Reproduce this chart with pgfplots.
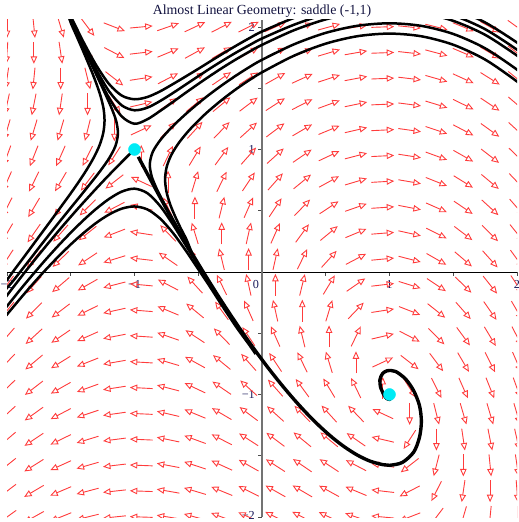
\documentclass[border=0pt]{standalone}
\usepackage{fontspec}
\setmainfont{Liberation Serif}
\usepackage{pgfplots}
\usepackage{pgfplotstable}
\pgfplotsset{compat=1.18}
\usetikzlibrary{arrows.meta}
\definecolor{fieldred}{RGB}{255,60,60}
\definecolor{labelnavy}{RGB}{25,25,90}
\definecolor{dotcyan}{RGB}{0,235,245}
\begin{document}
\begin{tikzpicture}
\pgfplotstableread{
x y u v
-2 -2 -4 -3
-2 -1.789 -3.789 -3
-2 -1.579 -3.579 -3
-2 -1.368 -3.368 -3
-2 -1.158 -3.158 -3
-2 -0.947 -2.947 -3
-2 -0.737 -2.737 -3
-2 -0.526 -2.526 -3
-2 -0.316 -2.316 -3
-2 -0.105 -2.105 -3
-2 0.105 -1.895 -3
-2 0.316 -1.684 -3
-2 0.526 -1.474 -3
-2 0.737 -1.263 -3
-2 0.947 -1.053 -3
-2 1.158 -0.842 -3
-2 1.368 -0.632 -3
-2 1.579 -0.421 -3
-2 1.789 -0.211 -3
-2 2 0 -3
-1.789 -2 -3.789 -2.202
-1.789 -1.789 -3.579 -2.202
-1.789 -1.579 -3.368 -2.202
-1.789 -1.368 -3.158 -2.202
-1.789 -1.158 -2.947 -2.202
-1.789 -0.947 -2.737 -2.202
-1.789 -0.737 -2.526 -2.202
-1.789 -0.526 -2.316 -2.202
-1.789 -0.316 -2.105 -2.202
-1.789 -0.105 -1.895 -2.202
-1.789 0.105 -1.684 -2.202
-1.789 0.316 -1.474 -2.202
-1.789 0.526 -1.263 -2.202
-1.789 0.737 -1.053 -2.202
-1.789 0.947 -0.842 -2.202
-1.789 1.158 -0.632 -2.202
-1.789 1.368 -0.421 -2.202
-1.789 1.579 -0.211 -2.202
-1.789 1.789 0 -2.202
-1.789 2 0.211 -2.202
-1.579 -2 -3.579 -1.493
-1.579 -1.789 -3.368 -1.493
-1.579 -1.579 -3.158 -1.493
-1.579 -1.368 -2.947 -1.493
-1.579 -1.158 -2.737 -1.493
-1.579 -0.947 -2.526 -1.493
-1.579 -0.737 -2.316 -1.493
-1.579 -0.526 -2.105 -1.493
-1.579 -0.316 -1.895 -1.493
-1.579 -0.105 -1.684 -1.493
-1.579 0.105 -1.474 -1.493
-1.579 0.316 -1.263 -1.493
-1.579 0.526 -1.053 -1.493
-1.579 0.737 -0.842 -1.493
-1.579 0.947 -0.632 -1.493
-1.579 1.158 -0.421 -1.493
-1.579 1.368 -0.211 -1.493
-1.579 1.579 0 -1.493
-1.579 1.789 0.211 -1.493
-1.579 2 0.421 -1.493
-1.368 -2 -3.368 -0.873
-1.368 -1.789 -3.158 -0.873
-1.368 -1.579 -2.947 -0.873
-1.368 -1.368 -2.737 -0.873
-1.368 -1.158 -2.526 -0.873
-1.368 -0.947 -2.316 -0.873
-1.368 -0.737 -2.105 -0.873
-1.368 -0.526 -1.895 -0.873
-1.368 -0.316 -1.684 -0.873
-1.368 -0.105 -1.474 -0.873
-1.368 0.105 -1.263 -0.873
-1.368 0.316 -1.053 -0.873
-1.368 0.526 -0.842 -0.873
-1.368 0.737 -0.632 -0.873
-1.368 0.947 -0.421 -0.873
-1.368 1.158 -0.211 -0.873
-1.368 1.368 0 -0.873
-1.368 1.579 0.211 -0.873
-1.368 1.789 0.421 -0.873
-1.368 2 0.632 -0.873
-1.158 -2 -3.158 -0.341
-1.158 -1.789 -2.947 -0.341
-1.158 -1.579 -2.737 -0.341
-1.158 -1.368 -2.526 -0.341
-1.158 -1.158 -2.316 -0.341
-1.158 -0.947 -2.105 -0.341
-1.158 -0.737 -1.895 -0.341
-1.158 -0.526 -1.684 -0.341
-1.158 -0.316 -1.474 -0.341
-1.158 -0.105 -1.263 -0.341
-1.158 0.105 -1.053 -0.341
-1.158 0.316 -0.842 -0.341
-1.158 0.526 -0.632 -0.341
-1.158 0.737 -0.421 -0.341
-1.158 0.947 -0.211 -0.341
-1.158 1.158 0 -0.341
-1.158 1.368 0.211 -0.341
-1.158 1.579 0.421 -0.341
-1.158 1.789 0.632 -0.341
-1.158 2 0.842 -0.341
-0.947 -2 -2.947 0.102
-0.947 -1.789 -2.737 0.102
-0.947 -1.579 -2.526 0.102
-0.947 -1.368 -2.316 0.102
-0.947 -1.158 -2.105 0.102
-0.947 -0.947 -1.895 0.102
-0.947 -0.737 -1.684 0.102
-0.947 -0.526 -1.474 0.102
-0.947 -0.316 -1.263 0.102
-0.947 -0.105 -1.053 0.102
-0.947 0.105 -0.842 0.102
-0.947 0.316 -0.632 0.102
-0.947 0.526 -0.421 0.102
-0.947 0.737 -0.211 0.102
-0.947 0.947 0 0.102
-0.947 1.158 0.211 0.102
-0.947 1.368 0.421 0.102
-0.947 1.579 0.632 0.102
-0.947 1.789 0.842 0.102
-0.947 2 1.053 0.102
-0.737 -2 -2.737 0.457
-0.737 -1.789 -2.526 0.457
-0.737 -1.579 -2.316 0.457
-0.737 -1.368 -2.105 0.457
-0.737 -1.158 -1.895 0.457
-0.737 -0.947 -1.684 0.457
-0.737 -0.737 -1.474 0.457
-0.737 -0.526 -1.263 0.457
-0.737 -0.316 -1.053 0.457
-0.737 -0.105 -0.842 0.457
-0.737 0.105 -0.632 0.457
-0.737 0.316 -0.421 0.457
-0.737 0.526 -0.211 0.457
-0.737 0.737 0 0.457
-0.737 0.947 0.211 0.457
-0.737 1.158 0.421 0.457
-0.737 1.368 0.632 0.457
-0.737 1.579 0.842 0.457
-0.737 1.789 1.053 0.457
-0.737 2 1.263 0.457
-0.526 -2 -2.526 0.723
-0.526 -1.789 -2.316 0.723
-0.526 -1.579 -2.105 0.723
-0.526 -1.368 -1.895 0.723
-0.526 -1.158 -1.684 0.723
-0.526 -0.947 -1.474 0.723
-0.526 -0.737 -1.263 0.723
-0.526 -0.526 -1.053 0.723
-0.526 -0.316 -0.842 0.723
-0.526 -0.105 -0.632 0.723
-0.526 0.105 -0.421 0.723
-0.526 0.316 -0.211 0.723
-0.526 0.526 0 0.723
-0.526 0.737 0.211 0.723
-0.526 0.947 0.421 0.723
-0.526 1.158 0.632 0.723
-0.526 1.368 0.842 0.723
-0.526 1.579 1.053 0.723
-0.526 1.789 1.263 0.723
-0.526 2 1.474 0.723
-0.316 -2 -2.316 0.900
-0.316 -1.789 -2.105 0.900
-0.316 -1.579 -1.895 0.900
-0.316 -1.368 -1.684 0.900
-0.316 -1.158 -1.474 0.900
-0.316 -0.947 -1.263 0.900
-0.316 -0.737 -1.053 0.900
-0.316 -0.526 -0.842 0.900
-0.316 -0.316 -0.632 0.900
-0.316 -0.105 -0.421 0.900
-0.316 0.105 -0.211 0.900
-0.316 0.316 0 0.900
-0.316 0.526 0.211 0.900
-0.316 0.737 0.421 0.900
-0.316 0.947 0.632 0.900
-0.316 1.158 0.842 0.900
-0.316 1.368 1.053 0.900
-0.316 1.579 1.263 0.900
-0.316 1.789 1.474 0.900
-0.316 2 1.684 0.900
-0.105 -2 -2.105 0.989
-0.105 -1.789 -1.895 0.989
-0.105 -1.579 -1.684 0.989
-0.105 -1.368 -1.474 0.989
-0.105 -1.158 -1.263 0.989
-0.105 -0.947 -1.053 0.989
-0.105 -0.737 -0.842 0.989
-0.105 -0.526 -0.632 0.989
-0.105 -0.316 -0.421 0.989
-0.105 -0.105 -0.211 0.989
-0.105 0.105 0 0.989
-0.105 0.316 0.211 0.989
-0.105 0.526 0.421 0.989
-0.105 0.737 0.632 0.989
-0.105 0.947 0.842 0.989
-0.105 1.158 1.053 0.989
-0.105 1.368 1.263 0.989
-0.105 1.579 1.474 0.989
-0.105 1.789 1.684 0.989
-0.105 2 1.895 0.989
0.105 -2 -1.895 0.989
0.105 -1.789 -1.684 0.989
0.105 -1.579 -1.474 0.989
0.105 -1.368 -1.263 0.989
0.105 -1.158 -1.053 0.989
0.105 -0.947 -0.842 0.989
0.105 -0.737 -0.632 0.989
0.105 -0.526 -0.421 0.989
0.105 -0.316 -0.211 0.989
0.105 -0.105 0 0.989
0.105 0.105 0.211 0.989
0.105 0.316 0.421 0.989
0.105 0.526 0.632 0.989
0.105 0.737 0.842 0.989
0.105 0.947 1.053 0.989
0.105 1.158 1.263 0.989
0.105 1.368 1.474 0.989
0.105 1.579 1.684 0.989
0.105 1.789 1.895 0.989
0.105 2 2.105 0.989
0.316 -2 -1.684 0.900
0.316 -1.789 -1.474 0.900
0.316 -1.579 -1.263 0.900
0.316 -1.368 -1.053 0.900
0.316 -1.158 -0.842 0.900
0.316 -0.947 -0.632 0.900
0.316 -0.737 -0.421 0.900
0.316 -0.526 -0.211 0.900
0.316 -0.316 0 0.900
0.316 -0.105 0.211 0.900
0.316 0.105 0.421 0.900
0.316 0.316 0.632 0.900
0.316 0.526 0.842 0.900
0.316 0.737 1.053 0.900
0.316 0.947 1.263 0.900
0.316 1.158 1.474 0.900
0.316 1.368 1.684 0.900
0.316 1.579 1.895 0.900
0.316 1.789 2.105 0.900
0.316 2 2.316 0.900
0.526 -2 -1.474 0.723
0.526 -1.789 -1.263 0.723
0.526 -1.579 -1.053 0.723
0.526 -1.368 -0.842 0.723
0.526 -1.158 -0.632 0.723
0.526 -0.947 -0.421 0.723
0.526 -0.737 -0.211 0.723
0.526 -0.526 0 0.723
0.526 -0.316 0.211 0.723
0.526 -0.105 0.421 0.723
0.526 0.105 0.632 0.723
0.526 0.316 0.842 0.723
0.526 0.526 1.053 0.723
0.526 0.737 1.263 0.723
0.526 0.947 1.474 0.723
0.526 1.158 1.684 0.723
0.526 1.368 1.895 0.723
0.526 1.579 2.105 0.723
0.526 1.789 2.316 0.723
0.526 2 2.526 0.723
0.737 -2 -1.263 0.457
0.737 -1.789 -1.053 0.457
0.737 -1.579 -0.842 0.457
0.737 -1.368 -0.632 0.457
0.737 -1.158 -0.421 0.457
0.737 -0.947 -0.211 0.457
0.737 -0.737 0 0.457
0.737 -0.526 0.211 0.457
0.737 -0.316 0.421 0.457
0.737 -0.105 0.632 0.457
0.737 0.105 0.842 0.457
0.737 0.316 1.053 0.457
0.737 0.526 1.263 0.457
0.737 0.737 1.474 0.457
0.737 0.947 1.684 0.457
0.737 1.158 1.895 0.457
0.737 1.368 2.105 0.457
0.737 1.579 2.316 0.457
0.737 1.789 2.526 0.457
0.737 2 2.737 0.457
0.947 -2 -1.053 0.102
0.947 -1.789 -0.842 0.102
0.947 -1.579 -0.632 0.102
0.947 -1.368 -0.421 0.102
0.947 -1.158 -0.211 0.102
0.947 -0.947 0 0.102
0.947 -0.737 0.211 0.102
0.947 -0.526 0.421 0.102
0.947 -0.316 0.632 0.102
0.947 -0.105 0.842 0.102
0.947 0.105 1.053 0.102
0.947 0.316 1.263 0.102
0.947 0.526 1.474 0.102
0.947 0.737 1.684 0.102
0.947 0.947 1.895 0.102
0.947 1.158 2.105 0.102
0.947 1.368 2.316 0.102
0.947 1.579 2.526 0.102
0.947 1.789 2.737 0.102
0.947 2 2.947 0.102
1.158 -2 -0.842 -0.341
1.158 -1.789 -0.632 -0.341
1.158 -1.579 -0.421 -0.341
1.158 -1.368 -0.211 -0.341
1.158 -1.158 0 -0.341
1.158 -0.947 0.211 -0.341
1.158 -0.737 0.421 -0.341
1.158 -0.526 0.632 -0.341
1.158 -0.316 0.842 -0.341
1.158 -0.105 1.053 -0.341
1.158 0.105 1.263 -0.341
1.158 0.316 1.474 -0.341
1.158 0.526 1.684 -0.341
1.158 0.737 1.895 -0.341
1.158 0.947 2.105 -0.341
1.158 1.158 2.316 -0.341
1.158 1.368 2.526 -0.341
1.158 1.579 2.737 -0.341
1.158 1.789 2.947 -0.341
1.158 2 3.158 -0.341
1.368 -2 -0.632 -0.873
1.368 -1.789 -0.421 -0.873
1.368 -1.579 -0.211 -0.873
1.368 -1.368 0 -0.873
1.368 -1.158 0.211 -0.873
1.368 -0.947 0.421 -0.873
1.368 -0.737 0.632 -0.873
1.368 -0.526 0.842 -0.873
1.368 -0.316 1.053 -0.873
1.368 -0.105 1.263 -0.873
1.368 0.105 1.474 -0.873
1.368 0.316 1.684 -0.873
1.368 0.526 1.895 -0.873
1.368 0.737 2.105 -0.873
1.368 0.947 2.316 -0.873
1.368 1.158 2.526 -0.873
1.368 1.368 2.737 -0.873
1.368 1.579 2.947 -0.873
1.368 1.789 3.158 -0.873
1.368 2 3.368 -0.873
1.579 -2 -0.421 -1.493
1.579 -1.789 -0.211 -1.493
1.579 -1.579 0 -1.493
1.579 -1.368 0.211 -1.493
1.579 -1.158 0.421 -1.493
1.579 -0.947 0.632 -1.493
1.579 -0.737 0.842 -1.493
1.579 -0.526 1.053 -1.493
1.579 -0.316 1.263 -1.493
1.579 -0.105 1.474 -1.493
1.579 0.105 1.684 -1.493
1.579 0.316 1.895 -1.493
1.579 0.526 2.105 -1.493
1.579 0.737 2.316 -1.493
1.579 0.947 2.526 -1.493
1.579 1.158 2.737 -1.493
1.579 1.368 2.947 -1.493
1.579 1.579 3.158 -1.493
1.579 1.789 3.368 -1.493
1.579 2 3.579 -1.493
1.789 -2 -0.211 -2.202
1.789 -1.789 0 -2.202
1.789 -1.579 0.211 -2.202
1.789 -1.368 0.421 -2.202
1.789 -1.158 0.632 -2.202
1.789 -0.947 0.842 -2.202
1.789 -0.737 1.053 -2.202
1.789 -0.526 1.263 -2.202
1.789 -0.316 1.474 -2.202
1.789 -0.105 1.684 -2.202
1.789 0.105 1.895 -2.202
1.789 0.316 2.105 -2.202
1.789 0.526 2.316 -2.202
1.789 0.737 2.526 -2.202
1.789 0.947 2.737 -2.202
1.789 1.158 2.947 -2.202
1.789 1.368 3.158 -2.202
1.789 1.579 3.368 -2.202
1.789 1.789 3.579 -2.202
1.789 2 3.789 -2.202
2 -2 0 -3
2 -1.789 0.211 -3
2 -1.579 0.421 -3
2 -1.368 0.632 -3
2 -1.158 0.842 -3
2 -0.947 1.053 -3
2 -0.737 1.263 -3
2 -0.526 1.474 -3
2 -0.316 1.684 -3
2 -0.105 1.895 -3
2 0.105 2.105 -3
2 0.316 2.316 -3
2 0.526 2.526 -3
2 0.737 2.737 -3
2 0.947 2.947 -3
2 1.158 3.158 -3
2 1.368 3.368 -3
2 1.579 3.579 -3
2 1.789 3.789 -3
2 2 4 -3
}\field
\begin{axis}[
  name=ax, scale only axis, width=510bp, height=497bp,
  xmin=-2, xmax=2, ymin=-2, ymax=2.057,
  axis lines=middle, axis line style={-},
  x axis line style={black, line width=0.9bp},
  y axis line style={black!55, line width=1.3bp},
  xtick={-2,-1,1,2}, ytick={-2,-1,1,2},
  xticklabels={−2,−1,1,2}, yticklabels={\raisebox{4bp}{−2},−1,1,2},
  minor xtick={-1.5,-0.5,0.5,1.5}, minor ytick={-1.5,-0.5,0.5,1.5},
  tick align=outside, major tick length=4bp, minor tick length=4bp,
  tick style={black!70, line width=0.7bp},
  ticklabel style={font=\fontsize{12.2bp}{13bp}\selectfont, text=labelnavy},
  xticklabel style={anchor=north, inner sep=1bp, yshift=-3bp},
  yticklabel style={anchor=east, inner sep=1bp, xshift=-2bp},
  clip=true,
]
\coordinate (axbl) at (rel axis cs:0,0);
\coordinate (axtop) at (rel axis cs:0.5,1);
\addplot[draw=fieldred, line width=0.9bp, -{Triangle[open, length=7.5bp, width=6.5bp, line width=0.9bp]},
  quiver={u={0.18*(\thisrow{u})/veclen((\thisrow{u}),(\thisrow{v}))},
          v={0.18*(\thisrow{v})/veclen((\thisrow{u}),(\thisrow{v}))}}]
  table[x expr={\thisrow{x}-0.09*(\thisrow{u})/veclen((\thisrow{u}),(\thisrow{v}))},
        y expr={\thisrow{y}-0.09*(\thisrow{v})/veclen((\thisrow{u}),(\thisrow{v}))}] {\field};
\addplot[only marks, mark=*, mark size=6bp, mark options={draw=dotcyan, fill=dotcyan}] coordinates {(-1,1) (1,-1)};
% spiral / stable manifold from below
\addplot[black, line width=3.4bp, smooth, tension=0.5] coordinates {
(1.0,-1.0) (1.015,-1.02) (1.0,-1.04) (0.975,-1.03) (0.955,-1.0) (0.93,-0.94) (0.925,-0.88) (0.945,-0.83) (0.983,-0.806) (1.048,-0.812) (1.127,-0.875) (1.19,-0.97) (1.235,-1.09) (1.25,-1.22) (1.235,-1.35) (1.19,-1.47) (1.10,-1.555) (1.0,-1.578) (0.95,-1.573) (0.85,-1.545) (0.75,-1.496) (0.65,-1.43) (0.55,-1.35) (0.45,-1.257) (0.35,-1.153) (0.25,-1.039) (0.15,-0.916) (0.05,-0.785) (-0.05,-0.646) (-0.15,-0.499) (-0.25,-0.345) (-0.35,-0.185) (-0.45,-0.018) (-0.55,0.154) (-0.65,0.333) (-0.75,0.516) (-0.85,0.707) (-0.95,0.90) (-0.97,0.94)};
% from the top, turning right
\addplot[black, line width=2.5bp, smooth, tension=0.5] coordinates {
(-1.53,2.13) (-1.5,2.086) (-1.4,1.877) (-1.3,1.688) (-1.2,1.535) (-1.1,1.44) (-1.0,1.41) (-0.9,1.428) (-0.8,1.474) (-0.7,1.533) (-0.6,1.595) (-0.5,1.658) (-0.4,1.723) (-0.3,1.787) (-0.2,1.849) (-0.1,1.908) (0,1.963) (0.25,2.074) (0.5,2.16) (0.75,2.213) (1.0,2.231) (1.25,2.211) (1.5,2.148) (1.75,2.037) (2.0,1.873) (2.05,1.83)};
\addplot[black, line width=2.5bp, smooth, tension=0.5] coordinates {
(-1.53,2.12) (-1.5,2.07) (-1.4,1.855) (-1.3,1.652) (-1.2,1.476) (-1.1,1.36) (-1.0,1.32) (-0.9,1.341) (-0.8,1.395) (-0.7,1.46) (-0.6,1.529) (-0.5,1.598) (-0.4,1.666) (-0.3,1.731) (-0.2,1.793) (-0.1,1.851) (0,1.906) (0.25,2.018) (0.5,2.105) (0.75,2.16) (1.0,2.179) (1.25,2.158) (1.5,2.095) (1.75,1.982) (2.0,1.815) (2.05,1.77)};
\addplot[black, line width=2.5bp, smooth, tension=0.5] coordinates {
(-1.53,2.13) (-1.5,2.062) (-1.4,1.842) (-1.3,1.626) (-1.2,1.422) (-1.1,1.27) (-1.0,1.21) (-0.9,1.246) (-0.8,1.314) (-0.7,1.387) (-0.6,1.462) (-0.5,1.535) (-0.4,1.606) (-0.3,1.674) (-0.2,1.738) (-0.1,1.798) (0,1.854) (0.25,1.973) (0.5,2.062) (0.75,2.117) (1.0,2.136) (1.25,2.115) (1.5,2.05) (1.75,1.936) (2.0,1.767) (2.05,1.72)};
% from the top, turning left
\addplot[black, line width=2.5bp, smooth, tension=0.5] coordinates {
(-1.53,2.13) (-1.50,2.035) (-1.458,1.935) (-1.416,1.835) (-1.375,1.735) (-1.335,1.635) (-1.298,1.535) (-1.266,1.435) (-1.243,1.335) (-1.235,1.235) (-1.245,1.135) (-1.274,1.035) (-1.319,0.935) (-1.375,0.835) (-1.438,0.735) (-1.505,0.635) (-1.575,0.535) (-1.645,0.435) (-1.716,0.335) (-1.787,0.235) (-1.858,0.135) (-1.93,0.035) (-2.0,-0.065) (-2.05,-0.135)};
\addplot[black, line width=2.5bp, smooth, tension=0.5] coordinates {
(-1.53,2.15) (-1.488,2.03) (-1.443,1.93) (-1.398,1.83) (-1.353,1.73) (-1.308,1.63) (-1.263,1.53) (-1.219,1.43) (-1.177,1.33) (-1.143,1.23) (-1.13,1.13) (-1.149,1.03) (-1.198,0.93) (-1.265,0.83) (-1.34,0.73) (-1.417,0.63) (-1.495,0.53) (-1.573,0.43) (-1.65,0.33) (-1.726,0.23) (-1.80,0.13) (-1.875,0.03) (-1.95,-0.07) (-2.0,-0.13) (-2.05,-0.19)};
% unstable manifold, lower branch
\addplot[black, line width=2.5bp, smooth, tension=0.5] coordinates {
(-1.0,1.0) (-1.05,0.95) (-1.15,0.845) (-1.25,0.737) (-1.35,0.625) (-1.45,0.51) (-1.55,0.391) (-1.65,0.268) (-1.75,0.141) (-1.85,0.011) (-1.95,-0.123) (-2.0,-0.191) (-2.05,-0.26)};
% from below, turning right
\addplot[black, line width=2.5bp, smooth, tension=0.5] coordinates {
(-0.65,0.333) (-0.727,0.48) (-0.778,0.58) (-0.826,0.68) (-0.865,0.78) (-0.88,0.88) (-0.857,0.98) (-0.795,1.08) (-0.709,1.18) (-0.608,1.28) (-0.496,1.38) (-0.4,1.459) (-0.3,1.535) (-0.2,1.606) (-0.1,1.672) (0,1.732) (0.25,1.858) (0.5,1.952) (0.75,2.01) (1.0,2.03) (1.25,2.009) (1.5,1.943) (1.75,1.826) (2.0,1.652) (2.05,1.6)};
\addplot[black, line width=2.5bp, smooth, tension=0.5] coordinates {
(-0.55,0.154) (-0.59,0.26) (-0.639,0.36) (-0.684,0.46) (-0.723,0.56) (-0.75,0.66) (-0.76,0.76) (-0.747,0.86) (-0.709,0.96) (-0.648,1.06) (-0.569,1.16) (-0.475,1.26) (-0.4,1.331) (-0.3,1.417) (-0.2,1.495) (-0.1,1.566) (0,1.630) (0.25,1.765) (0.5,1.864) (0.75,1.925) (1.0,1.946) (1.25,1.924) (1.5,1.855) (1.75,1.734) (2.0,1.555) (2.05,1.5)};
% from below, turning left
\addplot[black, line width=2.5bp, smooth, tension=0.5] coordinates {
(-0.35,-0.19) (-0.4,-0.105) (-0.5,0.054) (-0.6,0.222) (-0.7,0.39) (-0.8,0.54) (-0.9,0.644) (-1.0,0.68) (-1.1,0.656) (-1.2,0.596) (-1.3,0.516) (-1.4,0.423) (-1.5,0.321) (-1.6,0.212) (-1.7,0.097) (-1.8,-0.024) (-1.9,-0.149) (-2.0,-0.279) (-2.05,-0.345)};
\addplot[black, line width=2.5bp, smooth, tension=0.5] coordinates {
(-0.05,-0.67) (-0.1,-0.595) (-0.2,-0.452) (-0.3,-0.296) (-0.4,-0.134) (-0.5,0.023) (-0.6,0.178) (-0.7,0.321) (-0.8,0.437) (-0.9,0.511) (-1.0,0.535) (-1.1,0.517) (-1.2,0.469) (-1.3,0.401) (-1.4,0.318) (-1.5,0.225) (-1.6,0.123) (-1.7,0.014) (-1.8,-0.101) (-1.9,-0.222) (-2.0,-0.347) (-2.05,-0.41)};
\node[anchor=north, font=\fontsize{12.2bp}{13bp}\selectfont, text=labelnavy, inner sep=1bp, xshift=-6bp, yshift=-7bp] at (axis cs:0,0) {0};
\end{axis}
\node[anchor=base, font=\fontsize{13.9bp}{16bp}\selectfont, text=labelnavy!70!black, yshift=5bp] at (axtop) {Almost Linear Geometry: saddle (-1,1)};
\pgfresetboundingbox
\path (axbl) ++(-7bp,-5bp) rectangle ++(519bp,522bp);
\end{tikzpicture}
\end{document}
